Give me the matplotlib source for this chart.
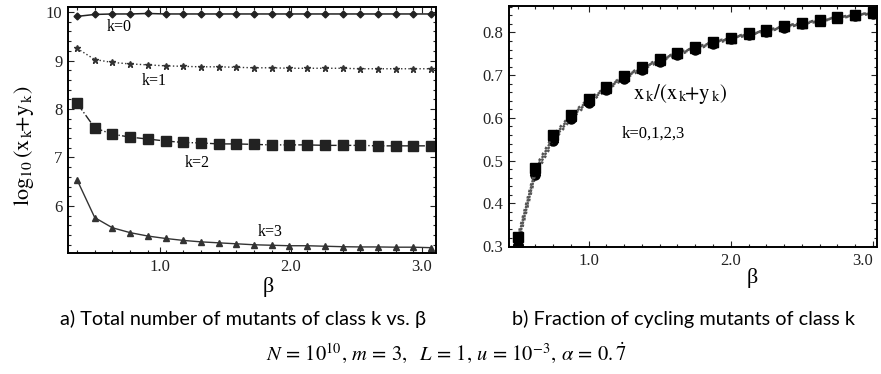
import numpy as np
import matplotlib
matplotlib.use("Agg")
import matplotlib.pyplot as plt
from matplotlib.ticker import FixedLocator, MultipleLocator

plt.rcParams["font.family"] = ["Liberation Serif", "DejaVu Serif"]
plt.rcParams["mathtext.fontset"] = "stix"

# panel a) total number of mutants, log10(x_k + y_k)
beta_a = [0.37, 0.505, 0.64, 0.775, 0.91, 1.045, 1.18, 1.315, 1.45, 1.585, 1.72,
          1.855, 1.99, 2.125, 2.26, 2.395, 2.53, 2.665, 2.80, 2.935, 3.07]
total_k0 = [9.91, 9.95, 9.96, 9.96, 9.97, 9.96, 9.96, 9.96, 9.96, 9.96, 9.96,
            9.96, 9.96, 9.96, 9.96, 9.96, 9.96, 9.96, 9.96, 9.96, 9.96]
total_k1 = [9.25, 9.02, 8.96, 8.93, 8.91, 8.89, 8.88, 8.87, 8.87, 8.86, 8.85,
            8.85, 8.84, 8.84, 8.84, 8.84, 8.83, 8.83, 8.83, 8.83, 8.83]
total_k2 = [8.12, 7.61, 7.48, 7.42, 7.38, 7.34, 7.31, 7.30, 7.28, 7.28, 7.27,
            7.26, 7.26, 7.26, 7.25, 7.25, 7.25, 7.24, 7.24, 7.24, 7.24]
total_k3 = [6.54, 5.76, 5.55, 5.45, 5.38, 5.33, 5.29, 5.26, 5.24, 5.22, 5.20,
            5.19, 5.18, 5.18, 5.17, 5.16, 5.155, 5.155, 5.15, 5.15, 5.14]

# panel b) fraction of cycling mutants x_k/(x_k+y_k)
beta_b = [0.5, 0.625, 0.75, 0.875, 1.0, 1.125, 1.25, 1.375, 1.5, 1.625, 1.75,
          1.875, 2.0, 2.125, 2.25, 2.375, 2.5, 2.625, 2.75, 2.875, 3.0]
frac_k0 = [0.300, 0.466, 0.545, 0.597, 0.635, 0.665, 0.692, 0.713, 0.732, 0.748, 0.760,
           0.773, 0.784, 0.794, 0.802, 0.811, 0.819, 0.826, 0.833, 0.839, 0.844]
frac_k1 = [0.307, 0.472, 0.550, 0.601, 0.639, 0.668, 0.695, 0.716, 0.735, 0.750, 0.762,
           0.775, 0.786, 0.796, 0.803, 0.812, 0.820, 0.827, 0.834, 0.840, 0.845]
frac_k2 = [0.321, 0.484, 0.560, 0.608, 0.645, 0.672, 0.699, 0.719, 0.738, 0.753, 0.765,
           0.778, 0.788, 0.798, 0.805, 0.815, 0.823, 0.829, 0.836, 0.841, 0.847]
frac_k3 = [0.314, 0.478, 0.555, 0.604, 0.642, 0.670, 0.697, 0.717, 0.736, 0.752, 0.764,
           0.777, 0.787, 0.797, 0.804, 0.814, 0.822, 0.828, 0.835, 0.841, 0.846]

fig = plt.figure(figsize=(8.81, 3.74), dpi=100)
ax1 = fig.add_axes([0.0772, 0.3235, 0.4177, 0.6586])
ax2 = fig.add_axes([0.5778, 0.3396, 0.4177, 0.6444])


def style_axes(ax, xvals):
    for s in ax.spines.values():
        s.set_linewidth(1.4)
    ax.xaxis.set_major_locator(FixedLocator([1.0, 2.0, 3.0]))
    ax.xaxis.set_minor_locator(FixedLocator(xvals))
    ax.tick_params(which="both", direction="in", top=True, right=True,
                   labelsize=12, width=0.8, colors="#222222", pad=4)
    ax.tick_params(which="major", length=4)
    ax.tick_params(which="minor", length=2.5)


# ---- panel a ----
ax1.plot(beta_a, total_k0, "-", color="#222222", lw=1.1, marker="D", ms=3.5)
ax1.plot(beta_a, total_k1, ":", color="#333333", lw=1.0, marker="*", ms=5)
ax1.plot(beta_a, total_k2, "-.", color="#222222", lw=1.0, marker="s", ms=7.5)
ax1.plot(beta_a, total_k3, "-", color="#333333", lw=1.0, marker="^", ms=4)
ax1.set_xlim(0.301, 3.108)
ax1.set_ylim(5.03, 10.11)
ax1.yaxis.set_major_locator(FixedLocator([6, 7, 8, 9, 10]))
ax1.yaxis.set_minor_locator(MultipleLocator(0.2))
ax1.set_xticklabels(["1.0", "2.0", "3.0"])
style_axes(ax1, beta_a)
ax1.text(0.69, 9.69, "k=0", fontsize=11.5, ha="center", va="center")
ax1.text(0.957, 8.58, "k=1", fontsize=11.5, ha="center", va="center")
ax1.text(1.286, 6.89, "k=2", fontsize=11.5, ha="center", va="center")
ax1.text(1.843, 5.46, "k=3", fontsize=11.5, ha="center", va="center")
ax1.text(0.545, -0.14, "\u03b2", transform=ax1.transAxes, fontsize=16,
         ha="center", va="center")
fig.text(0.027, 0.61,
         r"$\mathrm{log}_{10}\,(\mathrm{x}_{\,\mathrm{k}}\!\mathrm{+y}_{\,\mathrm{k}})$",
         rotation=90, fontsize=16, ha="center", va="center")

# ---- panel b ----
for vals, mk in [(frac_k0, "o"), (frac_k1, "*"), (frac_k3, "^"), (frac_k2, "s")]:
    ax2.plot(beta_b, vals, ":", color="#555555", lw=1.8, marker=mk, ms=6.5,
             mfc="black", mec="black")
ax2.set_xlim(0.439, 3.03)
ax2.set_ylim(0.298, 0.862)
ax2.yaxis.set_major_locator(FixedLocator([0.3, 0.4, 0.5, 0.6, 0.7, 0.8]))
ax2.yaxis.set_minor_locator(MultipleLocator(0.02))
ax2.set_xticklabels(["1.0", "2.0", "3.0"])
style_axes(ax2, beta_b)
# the last label sits against the figure edge, as in the original
ax2.get_xticklabels()[-1].set_horizontalalignment("right")
ax2.text(1.643, 0.657,
         r"$\mathrm{x}_{\,\mathrm{k}}\mathrm{/(x}_{\,\mathrm{k}}\!\mathrm{+y}_{\,\mathrm{k}}\mathrm{)}$",
         fontsize=15, ha="center", va="center")
ax2.text(1.453, 0.563, "k=0,1,2,3", fontsize=12, ha="center", va="center")
ax2.text(0.66, -0.13, "\u03b2", transform=ax2.transAxes, fontsize=16,
         ha="center", va="center")

# captions
fig.text(0.068, 0.148, "a) Total number of mutants of class k vs. \u03b2",
         family=["Lato", "DejaVu Sans"], fontsize=14.3, ha="left", va="center")
fig.text(0.581, 0.148, "b) Fraction of cycling mutants of class k",
         family=["Lato", "DejaVu Sans"], fontsize=14.3, ha="left", va="center")
fig.text(0.507, 0.058,
         r"$N\,=\,10^{10},\,m\,=\,3,\ \ L\,=\,1,\,u\,=\,10^{-3},\,\alpha\,=\,0.\dot{7}$",
         fontsize=14.8, ha="center", va="center")

fig.savefig("out.png", dpi=100)
